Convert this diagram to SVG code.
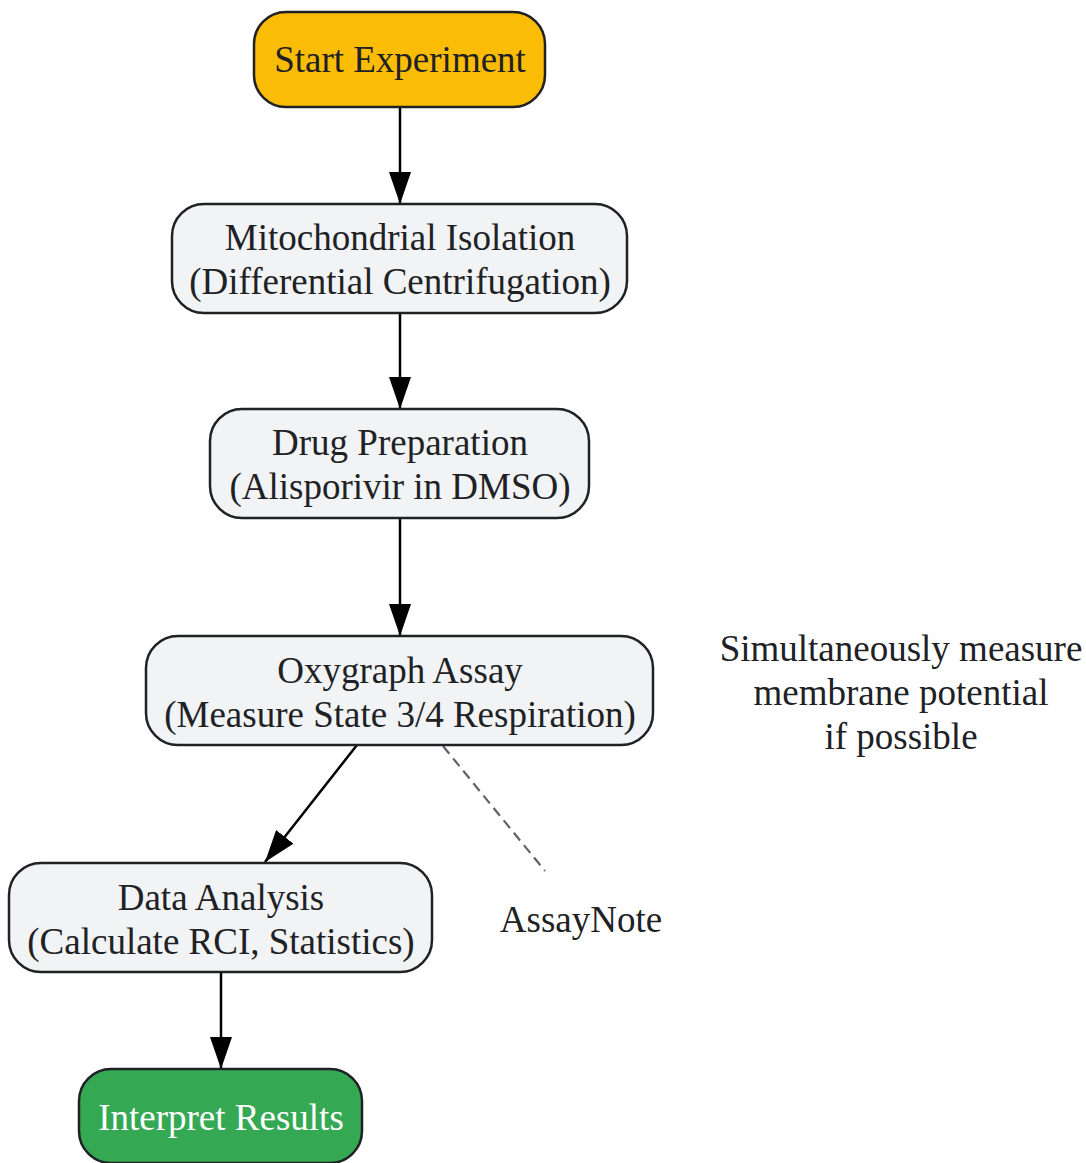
<svg xmlns="http://www.w3.org/2000/svg" width="1086" height="1163" viewBox="0 0 1086 1163">
<style>
.n{stroke:#202124;stroke-width:2.5}
.g{fill:#F1F3F4}
.t{font-family:"Liberation Serif","Times New Roman",serif;font-size:37px;fill:#202124;text-anchor:middle}
.w{fill:#ffffff}
.e{stroke:#000;stroke-width:2.5;fill:none}
.d{stroke:#5f6368;stroke-width:2.2;stroke-dasharray:10,6;fill:none}
</style>
<defs>
<marker id="ah" markerWidth="32" markerHeight="22" refX="32" refY="11" orient="auto" markerUnits="userSpaceOnUse" viewBox="0 0 32 22">
<path d="M0,0 L32,11 L0,22 Z" fill="#000"/>
</marker>
</defs>
<rect width="1086" height="1163" fill="#fff"/>
<g id="connectors">
<line class="e" x1="400" y1="107" x2="400" y2="204" marker-end="url(#ah)"/>
<line class="e" x1="400" y1="313" x2="400" y2="409" marker-end="url(#ah)"/>
<line class="e" x1="400" y1="518" x2="400" y2="636" marker-end="url(#ah)"/>
<line class="e" x1="357" y1="745" x2="265" y2="862" marker-end="url(#ah)"/>
<line class="e" x1="221" y1="972" x2="221" y2="1069" marker-end="url(#ah)"/>
<line class="d" x1="443" y1="746" x2="545" y2="871"/>
</g>
<g id="start">
<rect class="n" x="254" y="12" width="291" height="95" rx="32" fill="#FBBC05"/>
<text class="t" x="400" y="72">Start Experiment</text>
</g>
<g id="isolation">
<rect class="n g" x="172" y="204" width="455" height="109" rx="32"/>
<text class="t" x="400" y="250">Mitochondrial Isolation</text>
<text class="t" x="400" y="294">(Differential Centrifugation)</text>
</g>
<g id="drug">
<rect class="n g" x="210" y="409" width="379" height="109" rx="32"/>
<text class="t" x="400" y="455">Drug Preparation</text>
<text class="t" x="400" y="499">(Alisporivir in DMSO)</text>
</g>
<g id="assay">
<rect class="n g" x="146" y="636" width="507" height="109" rx="32"/>
<text class="t" x="400" y="683">Oxygraph Assay</text>
<text class="t" x="400" y="727">(Measure State 3/4 Respiration)</text>
</g>
<g id="analysis">
<rect class="n g" x="9" y="863" width="423" height="109" rx="32"/>
<text class="t" x="221" y="910">Data Analysis</text>
<text class="t" x="221" y="954">(Calculate RCI, Statistics)</text>
</g>
<g id="interpret">
<rect class="n" x="79" y="1069" width="283" height="94" rx="32" fill="#34A853"/>
<text class="t w" x="221" y="1130">Interpret Results</text>
</g>
<g id="note">
<text class="t" x="901" y="661">Simultaneously measure</text>
<text class="t" x="901" y="705">membrane potential</text>
<text class="t" x="901" y="749">if possible</text>
</g>
<g id="assaynote">
<text class="t" x="581" y="932">AssayNote</text>
</g>
</svg>
